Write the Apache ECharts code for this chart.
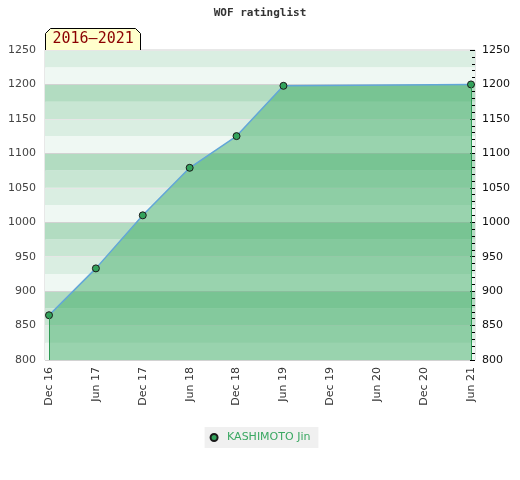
<!DOCTYPE html>
<html>
<head>
<meta charset="utf-8">
<script src="https://cdn.jsdelivr.net/npm/echarts@6/dist/echarts.min.js"></script>
<style>html,body{margin:0;padding:0;background:#fff}#c{width:520px;height:480px}</style>
</head>
<body>
<div id="c"></div>
<script>
var categories = ['Dec 16','Jun 17','Dec 17','Jun 18','Dec 18','Jun 19','Dec 19','Jun 20','Dec 20','Jun 21'];
var ratings = [865, 933, 1010, 1079, 1125, 1198, null, null, null, 1200];
var playerName = 'KASHIMOTO Jin';
var periodLabel = '2016\u20132021';
var titleText = 'WOF ratinglist';
var yMin = 800, yMax = 1250;

var chart = echarts.init(document.getElementById('c'), null, {renderer: 'canvas'});
var firstIdx = 0, lastIdx = ratings.length - 1;
var option = {
  animation: false,
  title: {
    text: titleText, left: 'center', top: 3,
    textStyle: {fontFamily: 'DejaVu Sans Mono', fontWeight: 'bold', fontSize: 11, color: '#333'}
  },
  legend: {
    top: 427, left: 'center',
    backgroundColor: '#f0f0f0', padding: [5, 8, 5, 5],
    itemWidth: 16, itemHeight: 7, itemGap: 10,
    textStyle: {color: '#3aa862', fontSize: 11, fontFamily: 'DejaVu Sans'},
    data: [{name: playerName, icon: 'circle'}]
  },
  grid: [
    {left: 45, right: 45, top: 50, bottom: 120, show: true, borderColor: '#d0d0d0', borderWidth: 1, backgroundColor: 'transparent'},
    {left: 49, right: 49, top: 50, bottom: 120}
  ],
  xAxis: [
    {type: 'value', gridIndex: 0, min: 0, max: 1, show: false},
    {type: 'category', gridIndex: 1, data: categories, boundaryGap: false,
     axisLine: {show: false}, axisTick: {show: false},
     axisLabel: {rotate: 90, margin: 7, color: '#333', fontSize: 11, fontFamily: 'DejaVu Sans', interval: 0}}
  ],
  yAxis: [
    {type: 'value', gridIndex: 0, min: yMin, max: yMax, interval: 25, position: 'left',
     axisLine: {show: false}, axisTick: {show: false},
     axisLabel: {margin: 9, color: '#444', fontSize: 11, fontFamily: 'DejaVu Sans',
       formatter: function (v) { return v % 50 === 0 ? String(v) : ''; }},
     splitLine: {show: true, lineStyle: {width: 1, color: ['#d2d2d2', 'rgba(0,0,0,0)', '#e6e6e6', 'rgba(0,0,0,0)']}},
     splitArea: {show: true, areaStyle: {color: ['#eff8f3', '#daeee2', '#c8e6d3', '#b2dcc1']}}},
    {type: 'value', gridIndex: 0, min: yMin, max: yMax, interval: 50, position: 'right',
     axisLine: {show: false},
     axisTick: {show: true, inside: true, length: 5, lineStyle: {color: '#000'}},
     minorTick: {show: true, splitNumber: 5, length: 3, lineStyle: {color: '#000'}},
     axisLabel: {margin: 7, color: '#111', fontSize: 11, fontFamily: 'DejaVu Sans',
       formatter: function (v) { return String(v); }},
     splitLine: {show: false}},
    {type: 'value', gridIndex: 1, min: yMin, max: yMax, show: false}
  ],
  series: [{
    name: playerName, type: 'line', xAxisIndex: 1, yAxisIndex: 2,
    data: ratings, connectNulls: true, z: 3,
    symbol: 'circle', symbolSize: 7, showSymbol: true,
    itemStyle: {color: '#33a35c', borderColor: '#1a1a1a', borderWidth: 1},
    lineStyle: {color: '#62a6d8', width: 1.5},
    areaStyle: {color: 'rgb(49,167,91)', opacity: 0.45, origin: 'start'},
    markLine: {
      silent: true, symbol: 'none', label: {show: false}, z: 4,
      lineStyle: {color: '#2f9a55', width: 1, type: 'solid', opacity: 1},
      emphasis: {disabled: true},
      data: [
        [{coord: [categories[firstIdx], yMin]}, {coord: [categories[firstIdx], ratings[firstIdx]]}],
        [{coord: [categories[lastIdx], yMin]}, {coord: [categories[lastIdx], ratings[lastIdx]]}]
      ]
    }
  }],
  graphic: [{
    type: 'group', left: 45, top: 28, z: 100,
    children: [
      {type: 'polygon', shape: {points: [[0, 22], [0, 5], [5, 0], [90, 0], [95, 5], [95, 22]]},
       style: {fill: '#ffffcc', stroke: '#000', lineWidth: 1}},
      {type: 'text', x: 7, y: 11,
       style: {text: periodLabel, fill: '#8b0000', fontSize: 15, fontFamily: 'DejaVu Sans Mono', verticalAlign: 'middle'}}
    ]
  }]
};
chart.setOption(option);
</script>
</body>
</html>
